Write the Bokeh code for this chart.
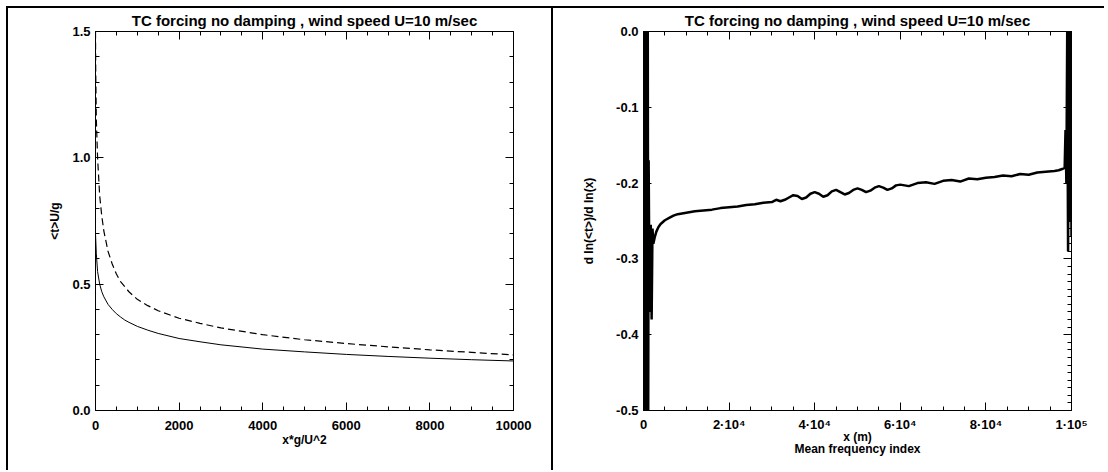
from bokeh.plotting import figure
from bokeh.layouts import row
from bokeh.models import (Range1d, LinearAxis, SingleIntervalTicker, PrintfTickFormatter,
                          CustomJSTickFormatter)
from bokeh.embed import file_html
from bokeh.resources import INLINE

TITLE = "TC forcing no damping , wind speed U=10 m/sec"

# ---- left panel data: dimensionless period vs fetch ----
fetch = [0, 5, 20, 50, 100, 150, 200, 300, 400, 500, 600, 700, 800, 1000, 1250, 1500,
         2000, 2500, 3000, 4000, 5000, 6000, 7000, 8000, 9000, 10000]
tau_solid = [0.70, 0.68, 0.62, 0.55, 0.50, 0.47, 0.45, 0.42, 0.40, 0.383, 0.37, 0.358,
             0.349, 0.333, 0.318, 0.305, 0.285, 0.272, 0.26, 0.243, 0.232, 0.222, 0.214,
             0.207, 0.201, 0.196]
tau_dashed = [1.5, 1.35, 1.15, 1.0, 0.85, 0.77, 0.71, 0.63, 0.58, 0.54, 0.51, 0.49,
              0.47, 0.44, 0.415, 0.395, 0.365, 0.345, 0.327, 0.30, 0.28, 0.265, 0.252,
              0.24, 0.23, 0.22]

# ---- right panel data: d ln<t> / d ln x vs x ----
x_m = [0, 100, 200, 300, 400, 500, 600, 700, 800, 900, 1000, 1100, 1200,
       1300, 1500, 1700, 1900, 2100, 2300, 2600, 3000, 3500, 4000, 5000, 6000, 7000,
       8000, 9000, 10000, 12000, 14000, 16000, 18000, 20000, 22000, 24000, 26000,
       28000, 30000, 31000, 32000, 33000, 34000, 35000, 36000, 37000, 38000, 39000,
       40000, 41000, 42000, 43000, 44000, 45000, 46000, 47000, 48000, 49000, 50000,
       51000, 52000, 53000, 54000, 55000, 56000, 57000, 58000, 59000, 60000, 62000,
       64000, 66000, 68000, 70000, 72000, 74000, 76000, 78000, 80000, 82000, 84000,
       86000, 88000, 90000, 92000, 94000, 96000, 97000, 98000, 98400, 98600, 98800,
       99000, 99200, 99400, 99600, 99800, 100000]
slope = [0.0, -0.5, 0.0, -0.5, 0.0, -0.5, 0.0, -0.5, 0.0, -0.5, 0.0, -0.5, -0.17,
         -0.26, -0.37, -0.255, -0.38, -0.26, -0.28, -0.272, -0.264, -0.258, -0.254,
         -0.249, -0.246, -0.243, -0.241, -0.240, -0.239, -0.237, -0.236, -0.235,
         -0.233, -0.232, -0.231, -0.229, -0.228, -0.226, -0.225, -0.222, -0.224,
         -0.222, -0.219, -0.216, -0.217, -0.221, -0.219, -0.214, -0.212, -0.214,
         -0.218, -0.216, -0.211, -0.209, -0.212, -0.215, -0.213, -0.209, -0.207,
         -0.209, -0.212, -0.210, -0.206, -0.204, -0.206, -0.209, -0.207, -0.203,
         -0.202, -0.204, -0.200, -0.199, -0.201, -0.197, -0.196, -0.198, -0.194,
         -0.195, -0.193, -0.192, -0.190, -0.191, -0.188, -0.189, -0.186, -0.185,
         -0.184, -0.183, -0.181, -0.18, -0.13, -0.20, 0.0, -0.29, 0.0, -0.25,
         0.0, -0.27]

# ---- tick labels ----
left_x_labels = {0: "0", 2000: "2000", 4000: "4000", 6000: "6000", 8000: "8000", 10000: "10000"}
right_x_labels = {0: "0", 20000: "2·10⁴", 40000: "4·10⁴", 60000: "6·10⁴",
                  80000: "8·10⁴", 100000: "1·10⁵"}

FONT = "Liberation Sans"


def tick_style(ax):
    ax.major_tick_in = 8
    ax.major_tick_out = 0
    ax.minor_tick_in = 4
    ax.minor_tick_out = 0
    ax.axis_line_color = "black"
    ax.major_tick_line_color = "black"
    ax.minor_tick_line_color = "black"


def build(p, xint, xminor, yint, yminor, xlabels, xlabel, ylabel):
    xt = SingleIntervalTicker(interval=xint, num_minor_ticks=xminor)
    yt = SingleIntervalTicker(interval=yint, num_minor_ticks=yminor)
    bottom = LinearAxis(ticker=xt, axis_label=xlabel)
    left = LinearAxis(ticker=yt, axis_label=ylabel, formatter=PrintfTickFormatter(format="%.1f"))
    bottom.major_label_overrides = xlabels
    blank = "return ''"
    top = LinearAxis(ticker=xt, formatter=CustomJSTickFormatter(code=blank), major_label_standoff=0)
    right = LinearAxis(ticker=yt, formatter=CustomJSTickFormatter(code=blank), major_label_standoff=0)
    p.add_layout(bottom, "below")
    p.add_layout(left, "left")
    p.add_layout(top, "above")
    p.add_layout(right, "right")
    for ax in (bottom, left, top, right):
        tick_style(ax)
    for ax in (bottom, left):
        ax.major_label_text_font = FONT
        ax.major_label_text_font_style = "bold"
        ax.major_label_text_font_size = "13px"
        ax.major_label_text_color = "black"
        ax.axis_label_text_font = FONT
        ax.axis_label_text_font_style = "bold"
        ax.axis_label_text_font_size = "12px"
        ax.axis_label_text_color = "black"
        ax.axis_label_text_line_height = 0.9
    left.major_label_standoff = 5
    p.outline_line_color = None
    p.title.text_font = FONT
    p.title.text_font_size = "15px"
    p.title.text_font_style = "bold"
    p.title.text_color = "black"
    p.title.text_line_height = 1.0
    p.title.align = "center"
    p.title.vertical_align = "top"
    p.title.standoff = 2
    return bottom, left


common = dict(output_backend="svg", toolbar_location=None, title=TITLE, x_axis_type=None,
              y_axis_type=None, height=464, min_border_top=23, min_border_bottom=62)

p1 = figure(width=545, x_range=Range1d(0, 10000), y_range=Range1d(0, 1.5),
            min_border_left=87, min_border_right=40,
            styles={"border-left": "2px solid black", "border-top": "2px solid black"},
            margin=(6, 0, 0, 6), **common)
b1, l1 = build(p1, 2000, 4, 0.5, 5, left_x_labels, "x*g/U^2", "<t>U/g")
b1.major_label_standoff = 10
b1.axis_label_standoff = 0
l1.axis_label_standoff = 7
p1.line(fetch, tau_solid, line_color="black", line_width=1)
p1.line(fetch, tau_dashed, line_color="black", line_width=1.2, line_dash="7 4")

p2 = figure(width=553, x_range=Range1d(0, 100000), y_range=Range1d(-0.5, 0.0),
            min_border_left=90, min_border_right=35,
            styles={"border-left": "2px solid black", "border-top": "2px solid black"},
            margin=(6, 0, 0, 0), **common)
b2, l2 = build(p2, 20000, 4, 0.1, 10, right_x_labels, "x (m)\nMean frequency index",
               "d ln(<t>)/d ln(x)")
b2.major_label_standoff = 6
b2.axis_label_standoff = -5
l2.axis_label_standoff = 17
p2.line(x_m, slope, line_color="black", line_width=2.5)

for p in (p1, p2):
    p.xgrid.visible = False
    p.ygrid.visible = False

layout = row(p1, p2, spacing=0)
open("out.html", "w").write(file_html(layout, INLINE))
